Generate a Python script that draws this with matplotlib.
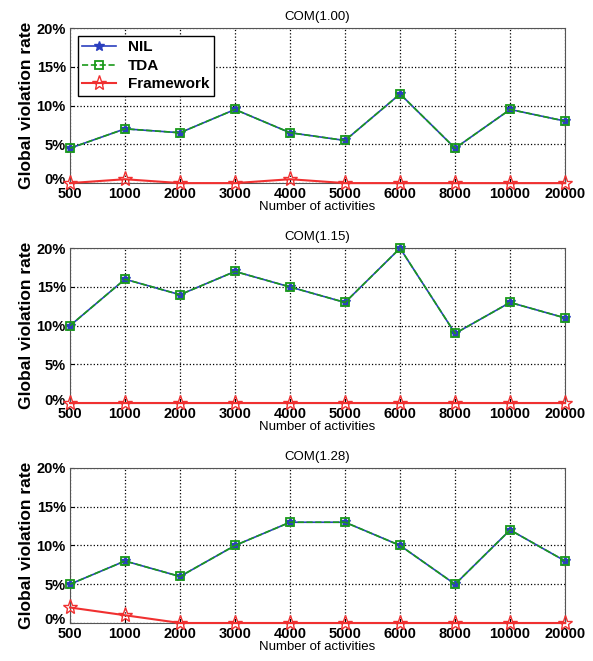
import matplotlib.pyplot as plt
import matplotlib.transforms as mtransforms

plt.rcParams['font.family'] = ['Liberation Sans', 'DejaVu Sans']

# Number of activities (categorical x axis)
activities = ['500', '1000', '2000', '3000', '4000', '5000', '6000', '8000', '10000', '20000']

# Global violation rates (%) for each COM setting
titles = ['COM(1.00)', 'COM(1.15)', 'COM(1.28)']
nil_rates = [
    [4.5, 7, 6.5, 9.5, 6.5, 5.5, 11.5, 4.5, 9.5, 8],
    [10, 16, 14, 17, 15, 13, 20, 9, 13, 11],
    [5, 8, 6, 10, 13, 13, 10, 5, 12, 8],
]
tda_rates = [
    [4.5, 7, 6.5, 9.5, 6.5, 5.5, 11.5, 4.5, 9.5, 8],
    [10, 16, 14, 17, 15, 13, 20, 9, 13, 11],
    [5, 8, 6, 10, 13, 13, 10, 5, 12, 8],
]
framework_rates = [
    [0, 0.5, 0, 0, 0.5, 0, 0, 0, 0, 0],
    [0, 0, 0, 0, 0, 0, 0, 0, 0, 0],
    [2, 1, 0, 0, 0, 0, 0, 0, 0, 0],
]
yticks = [0, 5, 10, 15, 20]

fig = plt.figure(figsize=(5.93, 6.61), dpi=100)
bottoms = [0.723, 0.390, 0.0575]
x = list(range(len(activities)))

for i in range(3):
    ax = fig.add_axes([0.118, bottoms[i], 0.835, 0.2345])
    ax.plot(x, nil_rates[i], color='#2b3fbf', marker='*', markersize=7, lw=1.2,
            label='NIL', clip_on=False, zorder=3)
    ax.plot(x, tda_rates[i], color='#1a9a1a', ls='--', marker='s', markersize=6,
            markerfacecolor='none', markeredgewidth=1.3, lw=1.2, label='TDA',
            clip_on=False, zorder=4)
    ax.plot(x, framework_rates[i], color='#f03030', marker='*', markersize=11,
            markerfacecolor='none', markeredgewidth=1.0, lw=1.5, label='Framework',
            clip_on=False, zorder=5)
    ax.set_xlim(0, 9)
    ax.set_ylim(0, 20)
    ax.set_xticks(x)
    ax.set_xticklabels(activities, fontsize=10.5, fontweight='bold')
    ax.set_yticks(yticks)
    ax.set_yticklabels(['%d%%' % v for v in yticks], fontsize=10.5, fontweight='bold')
    ax.tick_params(axis='x', direction='in', length=3, pad=3)
    ax.tick_params(axis='y', direction='in', length=3, pad=3)
    # lift the 0% label a little so it sits just above the first x label
    zero_lbl = ax.get_yticklabels()[0]
    zero_lbl.set_transform(zero_lbl.get_transform() +
                           mtransforms.ScaledTranslation(0, 3 / 72, fig.dpi_scale_trans))
    ax.grid(True, ls=':', color='black', lw=0.9)
    ax.set_title(titles[i], fontsize=9.5, pad=6)
    ax.set_xlabel('Number of activities', fontsize=9.5, labelpad=0)
    ax.set_ylabel('Global violation rate', fontsize=12.5, fontweight='bold', labelpad=2)
    for s in ax.spines.values():
        s.set_color('#555555')
        s.set_linewidth(0.8)
    if i == 0:
        ax.legend(loc='upper left', prop={'weight': 'bold', 'size': 11}, fancybox=False,
                  edgecolor='black', framealpha=1, handlelength=2.2, borderpad=0.3,
                  labelspacing=0.3)

fig.savefig('out.png', dpi=100)
